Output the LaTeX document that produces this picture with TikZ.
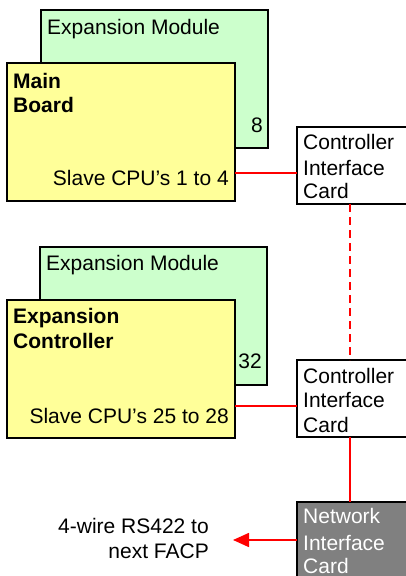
\documentclass[tikz,border=0pt]{standalone}
\usepackage{fontspec}
\setmainfont{Liberation Sans}
\usetikzlibrary{arrows.meta}
\definecolor{modgreen}{HTML}{CCFFCC}
\definecolor{boardyellow}{HTML}{FFFF99}
\definecolor{nicgray}{HTML}{808080}
\definecolor{wirered}{HTML}{FF0000}
\tikzset{
  box/.style={draw=black, line width=1.6pt, anchor=north west, inner sep=0pt, outer sep=0pt},
  greenbox/.style={box, fill=modgreen, minimum width=227pt, minimum height=138pt},
  yellowbox/.style={box, fill=boardyellow, minimum width=228pt, minimum height=138pt},
  cardbox/.style={box, fill=white, minimum width=118pt, minimum height=77pt},
  niccard/.style={box, fill=nicgray, minimum width=118pt, minimum height=100pt},
  txt/.style={inner sep=0pt, font=\fontsize{21pt}{24.5pt}\selectfont},
  txtl/.style={txt, anchor=base west},
  txtr/.style={txt, anchor=base east},
  wire/.style={draw=wirered, line width=1.6pt},
  dashwire/.style={wire, dash pattern=on 8pt off 5pt},
}
\begin{document}
\begin{tikzpicture}[x=1pt, y=-1pt]
\useasboundingbox (0,0) rectangle (406,576);
\clip (0,0) rectangle (406,576);
\fill[white] (0,0) rectangle (406,576);

% group 1
\node[greenbox] (em1) at (41,10) {};
\node[yellowbox] (mb) at (7,63) {};
\node[cardbox] (cic1) at (297,127) {};
\node[txtl] (em1t) at (47,34) {Expansion Module};
\node[txtl, font=\fontsize{21pt}{24.5pt}\selectfont\bfseries] (mbt1) at (13,88) {Main};
\node[txtl, font=\fontsize{21pt}{24.5pt}\selectfont\bfseries] (mbt2) at (13,112) {Board};
\node[txtr] (em1n) at (263,132) {8};
\node[txtr] (mbs) at (229,185) {Slave CPU’s 1 to 4};
\node[txtl] (c1a) at (303,149) {Controller};
\node[txtl] (c1b) at (303,175) {Interface};
\node[txtl] (c1c) at (303,198) {Card};

% group 2
\node[greenbox] (em2) at (40,247) {};
\node[yellowbox] (ec) at (7,300) {};
\node[cardbox] (cic2) at (297,360) {};
\node[txtl] (em2t) at (46,270) {Expansion Module};
\node[txtl, font=\fontsize{21pt}{24.5pt}\selectfont\bfseries] (ect1) at (13,323) {Expansion};
\node[txtl, font=\fontsize{21pt}{24.5pt}\selectfont\bfseries] (ect2) at (13,348) {Controller};
\node[txtr] (em2n) at (262,368) {32};
\node[txtr] (ecs) at (229,423) {Slave CPU’s 25 to 28};
\node[txtl] (c2a) at (303,383) {Controller};
\node[txtl] (c2b) at (303,407) {Interface};
\node[txtl] (c2c) at (303,432) {Card};

% network interface card
\node[niccard] (nic) at (297,502) {};
\node[txtl, text=white] (n1) at (303,523) {Network};
\node[txtl, text=white] (n2) at (303,550) {Interface};
\node[txtl, text=white] (n3) at (303,573) {Card};

\node[txtr] (rs1) at (209,533) {4-wire RS422 to};
\node[txtr] (rs2) at (209,558) {next FACP};

% connectors
\coordinate (w1) at (0,173);
\coordinate (w2) at (0,406);
\coordinate (w3) at (0,540);
\coordinate (vx) at (350,0);
\coordinate (tip) at (233,540);
\draw[wire] (mb.east |- w1) -- (cic1.west |- w1);
\draw[wire] (ec.east |- w2) -- (cic2.west |- w2);
\draw[dashwire] (vx |- cic1.south) -- (vx |- cic2.north);
\draw[wire] (vx |- cic2.south) -- (vx |- nic.north);
\draw[wire, -{Triangle[length=16pt, width=14pt]}] (nic.west |- w3) -- (tip);
\end{tikzpicture}
\end{document}
